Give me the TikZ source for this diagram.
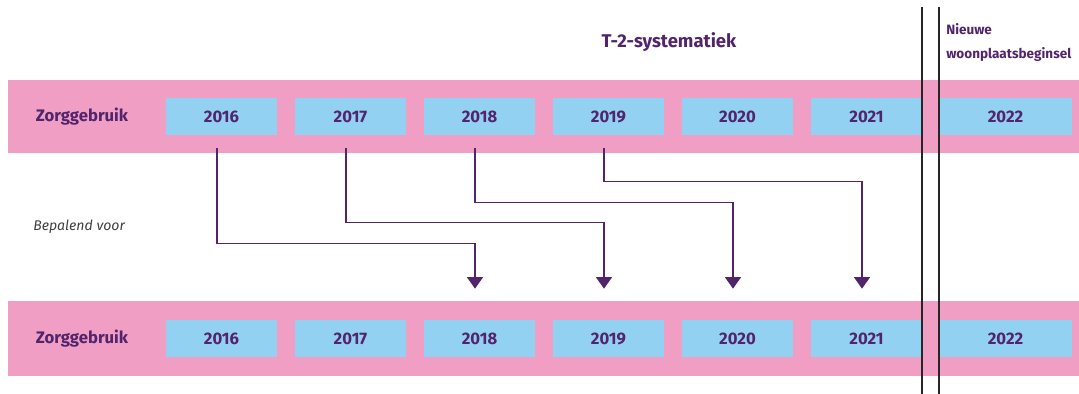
\documentclass[tikz,border=0pt]{standalone}
\usepackage{fontspec}
\setmainfont{Fira Sans}
\usetikzlibrary{arrows.meta, positioning, calc}
\definecolor{roze}{RGB}{240,158,196}
\definecolor{lichtblauw}{RGB}{147,209,242}
\definecolor{paars}{RGB}{82,36,108}
\tikzset{>={Triangle[width=9pt,length=6.5pt]}}
\tikzset{
  jaar/.style={fill=lichtblauw, text=paars, font=\fontsize{9.5}{11}\selectfont\bfseries, minimum width=2.22cm, minimum height=0.74cm, inner sep=0pt},
  rij/.style={text=paars, font=\fontsize{9.5}{11}\selectfont\bfseries, inner sep=0pt},
  pijl/.style={->, paars, line width=0.9pt},
  grens/.style={black!85, line width=1.1pt}
}

\begin{document}
\begin{tikzpicture}[x=0.02cm, y=-0.02cm]

	\useasboundingbox (0,0) rectangle (1079,394);

	% roze banden
	\fill[roze] (8,80) rectangle (1079,153);
	\fill[roze] (8,301) rectangle (1079,376);

	\node [rij] (rijboven) at (82,116.5) {Zorggebruik};
	\node [rij] (rijonder) at (82,338.5) {Zorggebruik};

	\foreach \j/\yr in {0/2016, 1/2017, 2/2018, 3/2019, 4/2020, 5/2021} {
		\node [jaar] (t\yr) at ({221.5+129*\j},116.5) {\yr};
		\node [jaar] (b\yr) at ({221.5+129*\j},338.5) {\yr};
	}
	\node [jaar, minimum width=2.66cm] (t2022) at (1005.5,116.5) {2022};
	\node [jaar, minimum width=2.66cm] (b2022) at (1005.5,338.5) {2022};

	\node [text=paars, font=\fontsize{10.5}{12}\selectfont\bfseries] (titel) at (669,42) {T-2-systematiek};
	\node [text=paars, font=\fontsize{7.7}{14}\selectfont\bfseries, align=left, anchor=west, inner sep=0pt] (nieuw) at (946,42.5) {Nieuwe\\woonplaatsbeginsel};

	\node [text=black!75, font=\fontsize{8}{10}\selectfont\itshape, anchor=west, inner sep=0pt] (bepalend) at (33,227) {Bepalend voor};

	% pijlen
	\foreach \a/\b/\d in {2016/2018/95, 2017/2019/74, 2018/2020/54, 2019/2021/33}
		\draw [pijl] ([shift={(-4.5,13)}]t\a.south) -- ++(0,\d) -| ([shift={(-4.5,-31)}]b\b.north);

	\coordinate (g1) at (922,7);
	\coordinate (g2) at (939,7);
	\draw [grens] (g1) -- (g1 |- 0,394);
	\draw [grens] (g2) -- (g2 |- 0,394);

\end{tikzpicture}
\end{document}
